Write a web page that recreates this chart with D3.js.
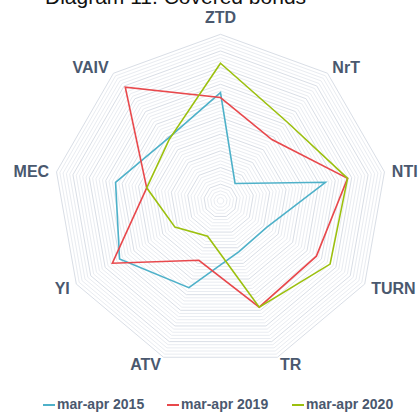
<!DOCTYPE html>
<html>
<head>
<meta charset="utf-8">
<script src="https://cdn.jsdelivr.net/npm/d3@7"></script>
<style>
html,body{margin:0;padding:0;background:#fff;}
svg{display:block;}
</style>
</head>
<body>
<svg id="chart" width="420" height="412"></svg>
<script>
const axes = ["ZTD","NrT","NTI","TURN","TR","ATV","YI","MEC","VAIV"];
const seriesNames = ["mar-apr 2015","mar-apr 2019","mar-apr 2020"];
const values2015 = [65, 13.6, 64, 32, 32.5, 55.5, 70, 64, 49];
const values2019 = [62, 48, 77.5, 66.5, 68, 38, 75, 45, 89];
const values2020 = [82.6, 62, 77.5, 76, 68, 22.7, 31.6, 45, 48];
const seriesColors = ["#4eb1c9", "#e8484c", "#9cc00e"];
const title = "Diagram 11. Covered bonds";

const W = 420, H = 412;
const cx = 220.5, cy = 200.8, R = 166.5;
const maxVal = 100, rings = 50;

const svg = d3.select("#chart");
const r = d3.scaleLinear().domain([0, maxVal]).range([0, R]);
const ang = d3.scaleLinear().domain([0, axes.length]).range([0, 2 * Math.PI]);
const pt = (i, v) => [cx + r(v) * Math.sin(ang(i)), cy - r(v) * Math.cos(ang(i))];

// grid rings
const ringVals = d3.range(1, rings + 1).map(k => k * maxVal / rings);
svg.append("g").selectAll("path").data(ringVals).join("path")
  .attr("d", v => d3.line()(axes.map((a, i) => pt(i, v))) + "Z")
  .attr("fill", "none")
  .attr("stroke", (v, k) => ((k + 1) % 5 === 0) ? "#d9dee6" : "#e9ecf1")
  .attr("stroke-width", 1);

// series
const allSeries = [values2015, values2019, values2020];
const lineGen = d3.line();
svg.append("g").selectAll("path").data(allSeries).join("path")
  .attr("d", vals => lineGen(vals.map((v, i) => pt(i, v))) + "Z")
  .attr("fill", "none")
  .attr("stroke", (d, i) => seriesColors[i])
  .attr("stroke-width", 1.6)
  .attr("stroke-linejoin", "miter");

// axis labels
svg.append("g").selectAll("text").data(axes).join("text")
  .each(function(name, i) {
    const a = ang(i), s = Math.sin(a), c = Math.cos(a);
    const [vx, vy] = pt(i, maxVal);
    let dy;
    if (c > 0.9) dy = -11; else if (c > 0.5) dy = 0; else if (c > 0) dy = 5; else if (c > -0.9) dy = 10; else dy = 13;
    d3.select(this)
      .attr("x", vx + 7.5 * s)
      .attr("y", vy + dy)
      .attr("text-anchor", Math.abs(s) < 0.01 ? "middle" : (s > 0 ? "start" : "end"));
  })
  .text(d => d)
  .attr("font-family", "Liberation Sans, Arial, sans-serif")
  .attr("font-weight", "bold")
  .attr("font-size", 16)
  .attr("fill", "#4a586e");

// title (clipped at top)
svg.append("text")
  .attr("x", 45).attr("y", 4)
  .attr("font-family", "Liberation Sans, Arial, sans-serif")
  .attr("font-size", 21)
  .attr("fill", "#111")
  .text(title);

// legend
const legX = [43, 167, 292];
const leg = svg.append("g").selectAll("g").data(seriesNames).join("g")
  .attr("transform", (d, i) => `translate(${legX[i]},409)`);
leg.append("line")
  .attr("x1", 0).attr("x2", 12).attr("y1", -4).attr("y2", -4)
  .attr("stroke", (d, i) => seriesColors[i]).attr("stroke-width", 2);
leg.append("text")
  .attr("x", 14).attr("y", 0)
  .attr("font-family", "Liberation Sans, Arial, sans-serif")
  .attr("font-weight", "bold")
  .attr("font-size", 14)
  .attr("fill", "#4a586e")
  .text(d => d);
</script>
</body>
</html>
